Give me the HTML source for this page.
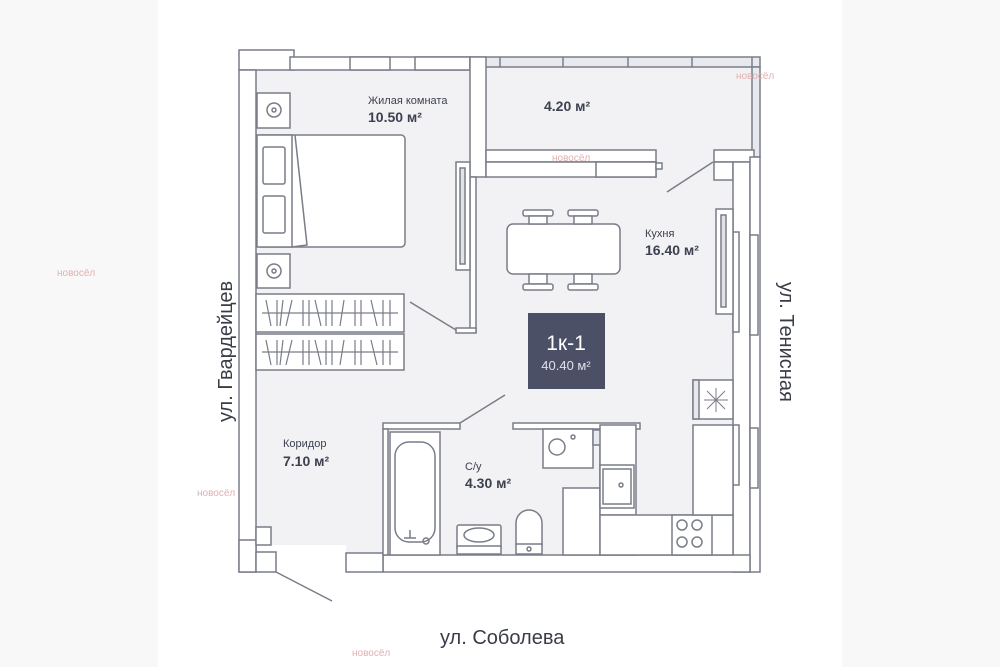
<!DOCTYPE html>
<html><head><meta charset="utf-8"><style>
html,body{margin:0;padding:0;background:#fff}
body{width:1000px;height:667px;overflow:hidden;position:relative;font-family:"Liberation Sans","DejaVu Sans",sans-serif}
.side{position:absolute;top:0;height:667px;background:#f8f8f8}
</style></head><body>
<div class="side" style="left:0;width:158px"></div>
<div class="side" style="left:842px;width:158px"></div>
<svg width="1000" height="667" style="position:absolute;left:0;top:0" font-family="Liberation Sans, DejaVu Sans, sans-serif">
<g stroke="#7a7d88" stroke-width="1.5" fill="#fff">
<!-- floor -->
<rect x="256" y="70" width="478" height="486" fill="#f2f2f4" stroke="none"/>
<rect x="486" y="67" width="266" height="90" fill="#f2f2f4" stroke="none"/>
<rect x="256" y="545" width="90" height="12" fill="#fff" stroke="none"/>
<!-- top wall room -->
<rect x="239" y="50" width="55" height="20"/>
<rect x="290" y="57" width="180" height="13"/>
<rect x="350" y="57" width="40" height="13"/>
<rect x="415" y="57" width="55" height="13"/>
<!-- balcony top -->
<rect x="470" y="57" width="290" height="10" fill="#e8e9ee"/>
<line x1="500" y1="57" x2="500" y2="67"/><line x1="563" y1="57" x2="563" y2="67"/><line x1="628" y1="57" x2="628" y2="67"/><line x1="692" y1="57" x2="692" y2="67"/><line x1="752" y1="57" x2="752" y2="67"/>
<!-- balcony right -->
<rect x="752" y="67" width="8" height="90" fill="#e8e9ee"/>
<!-- left wall -->
<rect x="239" y="70" width="17" height="502"/>
<rect x="239" y="540" width="17" height="32"/>
<rect x="256" y="527" width="15" height="18"/>
<rect x="256" y="552" width="20" height="20"/>
<line x1="276" y1="572" x2="332" y2="601"/>
<!-- wall room/balcony vertical -->
<rect x="470" y="57" width="16" height="120"/>
<rect x="486" y="150" width="170" height="12"/>
<rect x="486" y="162" width="170" height="15"/>
<rect x="596" y="162" width="60" height="15"/>
<rect x="656" y="163" width="6" height="6"/>
<!-- kitchen right partition -->
<rect x="714" y="150" width="40" height="12"/>
<rect x="714" y="162" width="19" height="18"/>
<line x1="713" y1="162" x2="667" y2="192"/>
<!-- right wall -->
<rect x="733" y="162" width="17" height="410"/>
<rect x="750" y="157" width="10" height="415"/>
<rect x="733" y="232" width="6" height="100"/><rect x="750" y="235" width="8" height="100"/>
<rect x="733" y="425" width="6" height="60"/><rect x="750" y="428" width="8" height="60"/>
<!-- bottom wall -->
<rect x="383" y="555" width="367" height="17"/>
<rect x="346" y="553" width="37" height="19"/>
<!-- room right wall lower -->
<rect x="470" y="177" width="6" height="155"/>
<rect x="456" y="162" width="14" height="108"/>
<rect x="460" y="168" width="5" height="96" fill="#e2e3e8"/>
<rect x="456" y="328" width="20" height="5"/>
<line x1="410" y1="302" x2="456" y2="330"/>
<!-- kitchen window sill -->
<rect x="716" y="209" width="17" height="105"/>
<rect x="721" y="215" width="5" height="92" fill="#e2e3e8"/>
<!-- bed -->
<rect x="257" y="135" width="148" height="112" rx="4"/>
<rect x="257" y="135" width="35" height="112"/>
<rect x="263" y="147" width="22" height="37" rx="2"/>
<rect x="263" y="196" width="22" height="37" rx="2"/>
<path d="M295 135 L307 245 L292 247" fill="none"/>
<!-- nightstands -->
<rect x="257" y="93" width="33" height="35"/><circle cx="274" cy="110" r="7" fill="none"/><circle cx="274" cy="110" r="2" fill="none"/>
<rect x="257" y="254" width="33" height="34"/><circle cx="274" cy="271" r="7" fill="none"/><circle cx="274" cy="271" r="2" fill="none"/>
<!-- wardrobes -->
<rect x="256" y="294" width="148" height="38"/>
<rect x="256" y="334" width="148" height="36"/>
<g stroke-width="1.2">
<line x1="262" y1="313" x2="398" y2="313"/><line x1="262" y1="352" x2="398" y2="352"/>
<path d="M266 300 L271 326 M277 300 L277 326 M283 300 L280 326 M292 300 L286 326 M303 300 L303 326 M309 300 L309 326 M315 300 L321 326 M326 300 L326 326 M332 300 L332 326 M344 300 L340 326 M355 300 L355 326 M361 300 L361 326 M371 300 L377 326 M383 300 L383 326 M390 300 L390 326"/>
<path d="M266 340 L271 365 M277 340 L277 365 M283 340 L280 365 M292 340 L286 365 M303 340 L303 365 M309 340 L309 365 M315 340 L321 365 M326 340 L326 365 M332 340 L332 365 M344 340 L340 365 M355 340 L355 365 M361 340 L361 365 M371 340 L377 365 M383 340 L383 365 M390 340 L390 365"/>
</g>
<!-- table -->
<rect x="507" y="224" width="113" height="50" rx="6"/>
<rect x="523" y="210" width="30" height="6" rx="2"/><rect x="529" y="216" width="18" height="8"/>
<rect x="568" y="210" width="30" height="6" rx="2"/><rect x="574" y="216" width="18" height="8"/>
<rect x="529" y="274" width="18" height="10"/><rect x="523" y="284" width="30" height="6" rx="2"/>
<rect x="574" y="274" width="18" height="10"/><rect x="568" y="284" width="30" height="6" rx="2"/>
<!-- bathroom -->
<line x1="505" y1="395" x2="460" y2="423"/>
<rect x="383" y="423" width="77" height="6"/>
<rect x="383" y="429" width="5" height="126"/>
<rect x="390" y="432" width="50" height="123"/>
<rect x="395" y="442" width="40" height="100" rx="14"/>
<path d="M404 538 h12 M410 530 v8" fill="none"/><circle cx="426" cy="541" r="3" fill="none"/>
<rect x="513" y="423" width="127" height="6"/>
<rect x="543" y="429" width="50" height="39"/><circle cx="557" cy="447" r="8" fill="none"/><circle cx="573" cy="437" r="2" fill="none"/>
<rect x="593" y="430" width="42" height="15" fill="#e8e9ee"/>
<rect x="600" y="445" width="35" height="110"/>
<rect x="563" y="488" width="37" height="67"/>
<rect x="457" y="525" width="44" height="25" rx="2"/><ellipse cx="479" cy="535" rx="15" ry="7" fill="none"/><rect x="457" y="546" width="44" height="8"/>
<path d="M516 545 v-22 a13 13 0 0 1 26 0 v22 z"/><rect x="516" y="544" width="26" height="10"/><circle cx="529" cy="549" r="2" fill="none"/>
<!-- kitchen counters -->
<rect x="600" y="425" width="36" height="90"/>
<rect x="600" y="465" width="34" height="43"/><rect x="603" y="469" width="28" height="35" fill="none"/><circle cx="621" cy="485" r="2" fill="none"/>
<rect x="600" y="515" width="133" height="40"/>
<rect x="672" y="515" width="40" height="40"/>
<circle cx="682" cy="525" r="5" fill="none"/><circle cx="697" cy="525" r="5" fill="none"/><circle cx="682" cy="542" r="5" fill="none"/><circle cx="697" cy="542" r="5" fill="none"/>
<rect x="693" y="425" width="40" height="90"/>
<rect x="693" y="380" width="40" height="39"/><rect x="693" y="380" width="6" height="39" fill="#e8e9ee"/>
<path d="M716 388 v24 M704 400 h24 M707 391 l18 18 M725 391 l-18 18" fill="none" stroke-width="1"/>
</g>
<!-- labels -->
<g fill="#3d4050">
<text x="368" y="104" font-size="11">Жилая комната</text>
<text x="368" y="122" font-size="14" font-weight="bold">10.50 м²</text>
<text x="544" y="111" font-size="14" font-weight="bold">4.20 м²</text>
<text x="645" y="237" font-size="11">Кухня</text>
<text x="645" y="255" font-size="14" font-weight="bold">16.40 м²</text>
<text x="283" y="447" font-size="11">Коридор</text>
<text x="283" y="466" font-size="14" font-weight="bold">7.10 м²</text>
<text x="465" y="470" font-size="11">С/у</text>
<text x="465" y="488" font-size="14" font-weight="bold">4.30 м²</text>
</g>
<rect x="528" y="313" width="77" height="76" fill="#4c5066"/>
<text x="566" y="350" font-size="21" fill="#fff" text-anchor="middle">1к-1</text>
<text x="566" y="370" font-size="13" fill="#e0e2ea" text-anchor="middle">40.40 м²</text>
<g fill="#3a3d48" font-size="20">
<text x="440" y="644">ул. Соболева</text>
<text transform="translate(232,422) rotate(-90)">ул. Гвардейцев</text>
<text transform="translate(780,282) rotate(90)">ул. Тенисная</text>
</g>
<g fill="#e0b0b0" font-size="10">
<text x="57" y="276">новосёл</text><text x="197" y="496">новосёл</text>
<text x="552" y="161">новосёл</text><text x="736" y="79">новосёл</text><text x="352" y="656">новосёл</text>
</g>
</svg>
</body></html>
